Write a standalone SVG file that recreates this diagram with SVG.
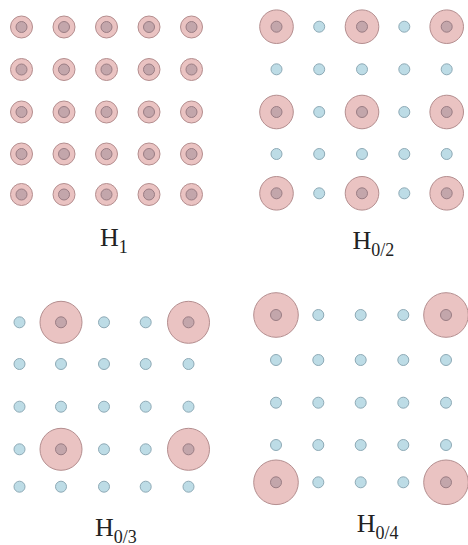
<svg xmlns="http://www.w3.org/2000/svg" width="468" height="545" viewBox="0 0 468 545">
<style>
.ring{fill:#eac3c2;stroke:#b48e8f;stroke-width:1}
.core{fill:#c3a6ab;stroke:#9a7d84;stroke-width:1}
.blue{fill:#bddce6;stroke:#8eaab6;stroke-width:1}
.lbl{font-family:"Liberation Serif","Times New Roman",serif;font-size:26px;fill:#222}
.sub{font-size:18px}
</style>
<defs>
<g id="s1"><circle class="ring" r="11"/><circle class="core" r="5.5"/></g>
<g id="b"><circle class="blue" r="5.5"/></g>
<g id="p2"><circle class="ring" r="16.8"/><circle class="core" r="5.5"/></g>
<g id="p3"><circle class="ring" r="21"/><circle class="core" r="5.5"/></g>
<g id="p4"><circle class="ring" r="22.3"/><circle class="core" r="5.5"/></g>
</defs>

<g id="panel-H1">
<g id="h1-r1"><use href="#s1" x="21.5" y="27"/><use href="#s1" x="64" y="27"/><use href="#s1" x="106.5" y="27"/><use href="#s1" x="149" y="27"/><use href="#s1" x="191.5" y="27"/></g>
<g id="h1-r2"><use href="#s1" x="21.5" y="69.5"/><use href="#s1" x="64" y="69.5"/><use href="#s1" x="106.5" y="69.5"/><use href="#s1" x="149" y="69.5"/><use href="#s1" x="191.5" y="69.5"/></g>
<g id="h1-r3"><use href="#s1" x="21.5" y="112"/><use href="#s1" x="64" y="112"/><use href="#s1" x="106.5" y="112"/><use href="#s1" x="149" y="112"/><use href="#s1" x="191.5" y="112"/></g>
<g id="h1-r4"><use href="#s1" x="21.5" y="154"/><use href="#s1" x="64" y="154"/><use href="#s1" x="106.5" y="154"/><use href="#s1" x="149" y="154"/><use href="#s1" x="191.5" y="154"/></g>
<g id="h1-r5"><use href="#s1" x="21.5" y="194.5"/><use href="#s1" x="64" y="194.5"/><use href="#s1" x="106.5" y="194.5"/><use href="#s1" x="149" y="194.5"/><use href="#s1" x="191.5" y="194.5"/></g>
<text class="lbl" x="100" y="246">H<tspan class="sub" dy="7">1</tspan></text>
</g>

<g id="panel-H02">
<g id="h2-r1"><use href="#p2" x="276.5" y="26.7"/><use href="#b" x="319.2" y="26.7"/><use href="#p2" x="362" y="26.7"/><use href="#b" x="404.3" y="26.7"/><use href="#p2" x="446.7" y="26.7"/></g>
<g id="h2-r2"><use href="#b" x="276.5" y="69.3"/><use href="#b" x="319.2" y="69.3"/><use href="#b" x="362" y="69.3"/><use href="#b" x="404.3" y="69.3"/><use href="#b" x="446.7" y="69.3"/></g>
<g id="h2-r3"><use href="#p2" x="276.5" y="112"/><use href="#b" x="319.2" y="112"/><use href="#p2" x="362" y="112"/><use href="#b" x="404.3" y="112"/><use href="#p2" x="446.7" y="112"/></g>
<g id="h2-r4"><use href="#b" x="276.5" y="154"/><use href="#b" x="319.2" y="154"/><use href="#b" x="362" y="154"/><use href="#b" x="404.3" y="154"/><use href="#b" x="446.7" y="154"/></g>
<g id="h2-r5"><use href="#p2" x="276.5" y="193.3"/><use href="#b" x="319.2" y="193.3"/><use href="#p2" x="362" y="193.3"/><use href="#b" x="404.3" y="193.3"/><use href="#p2" x="446.7" y="193.3"/></g>
<text class="lbl" x="352.5" y="249">H<tspan class="sub" dy="7">0/2</tspan></text>
</g>

<g id="panel-H03">
<g id="h3-r1"><use href="#b" x="19.5" y="322.3"/><use href="#p3" x="61" y="322.3"/><use href="#b" x="104" y="322.3"/><use href="#b" x="145.7" y="322.3"/><use href="#p3" x="188.5" y="322.3"/></g>
<g id="h3-r2"><use href="#b" x="19.5" y="364"/><use href="#b" x="61" y="364"/><use href="#b" x="104" y="364"/><use href="#b" x="145.7" y="364"/><use href="#b" x="188.5" y="364"/></g>
<g id="h3-r3"><use href="#b" x="19.5" y="406.7"/><use href="#b" x="61" y="406.7"/><use href="#b" x="104" y="406.7"/><use href="#b" x="145.7" y="406.7"/><use href="#b" x="188.5" y="406.7"/></g>
<g id="h3-r4"><use href="#b" x="19.5" y="449.3"/><use href="#p3" x="61" y="449.3"/><use href="#b" x="104" y="449.3"/><use href="#b" x="145.7" y="449.3"/><use href="#p3" x="188.5" y="449.3"/></g>
<g id="h3-r5"><use href="#b" x="19.5" y="486.7"/><use href="#b" x="61" y="486.7"/><use href="#b" x="104" y="486.7"/><use href="#b" x="145.7" y="486.7"/><use href="#b" x="188.5" y="486.7"/></g>
<text class="lbl" x="95" y="535.5">H<tspan class="sub" dy="7">0/3</tspan></text>
</g>

<g id="panel-H04">
<g id="h4-r1"><use href="#p4" x="276" y="315"/><use href="#b" x="318.3" y="315"/><use href="#b" x="360.7" y="315"/><use href="#b" x="403.3" y="315"/><use href="#p4" x="446" y="315"/></g>
<g id="h4-r2"><use href="#b" x="276" y="360"/><use href="#b" x="318.3" y="360"/><use href="#b" x="360.7" y="360"/><use href="#b" x="403.3" y="360"/><use href="#b" x="446" y="360"/></g>
<g id="h4-r3"><use href="#b" x="276" y="402.7"/><use href="#b" x="318.3" y="402.7"/><use href="#b" x="360.7" y="402.7"/><use href="#b" x="403.3" y="402.7"/><use href="#b" x="446" y="402.7"/></g>
<g id="h4-r4"><use href="#b" x="276" y="445"/><use href="#b" x="318.3" y="445"/><use href="#b" x="360.7" y="445"/><use href="#b" x="403.3" y="445"/><use href="#b" x="446" y="445"/></g>
<g id="h4-r5"><use href="#p4" x="276" y="482.3"/><use href="#b" x="318.3" y="482.3"/><use href="#b" x="360.7" y="482.3"/><use href="#b" x="403.3" y="482.3"/><use href="#p4" x="446" y="482.3"/></g>
<text class="lbl" x="356.7" y="532">H<tspan class="sub" dy="7">0/4</tspan></text>
</g>
</svg>
